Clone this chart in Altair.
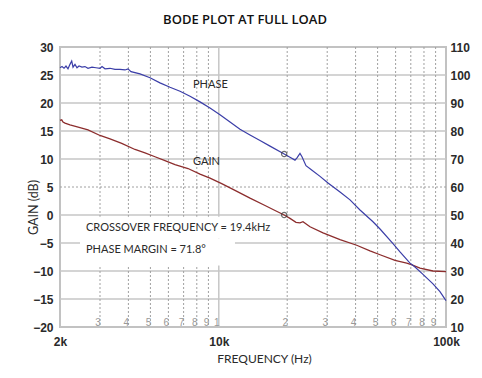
import altair as alt
import pandas as pd

# ---- data ----
gain_freq = [2000, 2035, 2062, 2104, 2213, 2449, 2656, 3000, 3320, 3738, 4277, 4733,
             5237, 5795, 6416, 7320, 8265, 9146, 10297, 11781, 13719, 15975, 17678,
             19400, 20574, 21864, 22768, 23470, 25200, 28752, 34158, 40456, 46280,
             51242, 59640, 67148, 70850, 76830, 87646, 100000]
gain_db = [16.9, 17.0, 16.6, 16.4, 16.1, 15.6, 15.2, 14.2, 13.6, 12.8, 11.7, 11.1,
           10.4, 9.7, 9.0, 8.3, 7.3, 6.6, 5.6, 4.4, 3.0, 1.7, 0.8,
           0.0, -0.6, -1.3, -1.4, -1.2, -2.1, -3.2, -4.4, -5.4, -6.4,
           -7.1, -8.1, -8.6, -8.9, -9.5, -10.0, -10.1]

phase_freq = [2000, 2041, 2083, 2125, 2169, 2213, 2252, 2282, 2328, 2376, 2425, 2499,
              2576, 2656, 2766, 2881, 3000, 3062, 3156, 3320, 3493, 3674, 3865, 3984,
              4107, 4499, 4979, 5509, 6099, 6749, 7470, 8265, 9146, 10121, 11203,
              12396, 13719, 15183, 16805, 19400, 20574, 21644, 22087, 22768, 23234,
              24194, 25716, 27894, 30246, 34158, 37800, 41828, 47706, 51242, 58444,
              62736, 69428, 73034, 79200, 87646, 94064, 100000]
phase_deg = [102.6, 103.0, 102.4, 103.2, 102.2, 103.8, 105.0, 102.8, 103.8, 102.6, 103.2, 102.8,
             103.0, 102.4, 102.8, 102.6, 102.4, 103.0, 102.2, 102.4, 102.0, 102.0, 101.8, 102.2,
             101.2, 100.4, 99.0, 97.2, 95.6, 94.2, 92.4, 90.4, 88.2, 85.8, 83.2,
             80.6, 78.6, 76.6, 74.6, 71.8, 70.6, 69.6, 70.4, 72.0, 70.8,
             67.6, 66.0, 63.8, 61.4, 58.2, 55.4, 51.8, 47.6, 45.0, 39.8,
             36.8, 32.8, 31.4, 28.8, 25.4, 22.6, 19.4]

gain_ticks = [-20, -15, -10, -5, 0, 5, 10, 15, 20, 25, 30]
phase_ticks = [10, 20, 30, 40, 50, 60, 70, 80, 90, 100, 110]
major_freqs = [2000, 10000, 100000]
minor_freqs = [3000, 4000, 5000, 6000, 7000, 8000, 9000, 10000,
               20000, 30000, 40000, 50000, 60000, 70000, 80000, 90000]
minor_labels = ["3", "4", "5", "6", "7", "8", "9", "1",
                "2", "3", "4", "5", "6", "7", "8", "9"]
dotted_freqs = [3000, 4000, 5000, 6000, 7000, 8000, 9000,
                20000, 30000, 40000, 50000, 60000, 70000, 80000, 90000]
solid_freqs = [10000]
solid_grid_db = [-15, -10, -5, 0, 10, 15, 20, 25]
dotted_grid_db = [5]

crossover_freq = 19400
crossover_gain = 0.0
phase_margin = 71.8

curve_labels = ["PHASE", "GAIN"]
curve_label_freq = [7700, 7700]
curve_label_db = [23.3, 9.5]

note_texts = ["CROSSOVER FREQUENCY = 19.4kHz", "PHASE MARGIN = 71.8°"]
note_freq = [2603, 2603]
note_db = [-2.3, -6.3]
box_f1 = [2449, 2449]
box_f2 = [18592, 11781]
box_db1 = [-0.3, -4.2]
box_db2 = [-4.2, -9.0]

# ---- tables ----
gain_df = pd.DataFrame({"f": gain_freq, "g": gain_db})
phase_df = pd.DataFrame({"f": phase_freq, "p": phase_deg})
minor_df = pd.DataFrame({"f": minor_freqs, "t": minor_labels})
dot_v_df = pd.DataFrame({"f": dotted_freqs})
sol_v_df = pd.DataFrame({"f": solid_freqs})
sol_h_df = pd.DataFrame({"g": solid_grid_db})
dot_h_df = pd.DataFrame({"g": dotted_grid_db})
lab_df = pd.DataFrame({"f": curve_label_freq, "g": curve_label_db, "t": curve_labels})
note_df = pd.DataFrame({"f": note_freq, "g": note_db, "t": note_texts})
box_df = pd.DataFrame({"f": box_f1, "f2": box_f2, "g": box_db1, "g2": box_db2})
cg_df = pd.DataFrame({"f": [crossover_freq], "g": [crossover_gain]})
cp_df = pd.DataFrame({"f": [crossover_freq], "p": [phase_margin]})

xs = alt.Scale(type="log", domain=[2000, 100000], nice=False)
gs = alt.Scale(domain=[-20, 30], nice=False, zero=False)
ps = alt.Scale(domain=[10, 110], nice=False, zero=False)

NUM = "Liberation Sans, Arial, sans-serif"
TXT = "Lato, Open Sans, sans-serif"
GRID = "#c6c6c6"
DOT = "#a0a0a0"

x_axis = alt.Axis(
    values=major_freqs, labelExpr="datum.value / 1000 + 'k'",
    grid=False, ticks=False, domain=False, labelFlush=False, labelOverlap=False,
    labelFont=NUM, labelFontSize=12, labelFontWeight="bold", labelColor="#2a2a2a",
    labelPadding=9, title="FREQUENCY (Hz)", titleFont=TXT, titleFontSize=12,
    titleFontWeight="normal", titleColor="#2a2a2a", titleX=204, titleY=31,
    titleBaseline="middle", titleAlign="center")
g_axis = alt.Axis(
    orient="left", values=gain_ticks, grid=False, ticks=False, domain=False,
    labelFont=NUM, labelFontSize=12, labelFontWeight="bold", labelColor="#2a2a2a",
    labelPadding=7, title="GAIN (dB)", titleFont=TXT, titleFontSize=12.5,
    titleFontWeight="normal", titleColor="#2a2a2a", titleX=-27, titleY=160,
    titleAngle=-90, titleBaseline="middle", titleAlign="center")
p_axis = alt.Axis(
    orient="right", values=phase_ticks, grid=False, ticks=False, domain=False,
    labelFont=NUM, labelFontSize=12, labelFontWeight="bold", labelColor="#2a2a2a",
    labelPadding=4, title="")

X = alt.X("f:Q", scale=xs, axis=x_axis)
G = alt.Y("g:Q", scale=gs, axis=g_axis)
P = alt.Y("p:Q", scale=ps, axis=p_axis)

hgrid = alt.Chart(sol_h_df).mark_rule(color=GRID, strokeWidth=1.5).encode(y=G)
hdot = alt.Chart(dot_h_df).mark_rule(color=DOT, strokeWidth=1, strokeDash=[2, 2]).encode(y=G)
vdot = alt.Chart(dot_v_df).mark_rule(color=DOT, strokeWidth=1, strokeDash=[2, 2]).encode(x=X)
vsol = alt.Chart(sol_v_df).mark_rule(color=GRID, strokeWidth=1.5).encode(x=X)

minor = alt.Chart(minor_df).mark_text(
    font=NUM, fontSize=10, color="#999999", baseline="middle", align="center", dx=-2
).encode(x=X, y=alt.value(276), text="t:N")

boxes = alt.Chart(box_df).mark_rect(color="white").encode(
    x=X, x2="f2:Q", y=G, y2="g2:Q")

notes = alt.Chart(note_df).mark_text(
    font=TXT, fontSize=11, color="#2a2a2a", align="left", baseline="middle"
).encode(x=X, y=G, text="t:N")

labels = alt.Chart(lab_df).mark_text(
    font=TXT, fontSize=11, color="#2a2a2a", align="left", baseline="middle"
).encode(x=X, y=G, text="t:N")

gain_line = alt.Chart(gain_df).mark_line(color="#8c2d2d", strokeWidth=1.3).encode(
    x=X, y=G, order="f:Q")

gain_mark = alt.Chart(cg_df).mark_point(shape="circle", size=28, color="#333333",
                                        filled=False, strokeWidth=1.2).encode(x=X, y=G)

phase_line = alt.Chart(phase_df).mark_line(color="#3b3ea8", strokeWidth=1.2).encode(
    x=X, y=P, order="f:Q")

phase_mark = alt.Chart(cp_df).mark_point(shape="circle", size=28, color="#333333",
                                         filled=False, strokeWidth=1.2).encode(x=X, y=P)

gain_layer = alt.layer(hgrid, hdot, vdot, vsol, minor, boxes, notes, labels, gain_line, gain_mark)
phase_layer = alt.layer(phase_line, phase_mark)

chart = alt.layer(gain_layer, phase_layer).resolve_scale(y="independent").properties(
    width=386, height=280,
    autosize=alt.AutoSizeParams(type="none"),
    padding={"left": 52, "top": 39, "right": 28, "bottom": 43},
    background="white",
    title=alt.TitleParams("BODE PLOT AT FULL LOAD", font="Open Sans", fontSize=13,
                          fontWeight=600, color="#111111", anchor="middle", dx=-8, offset=14),
).configure_view(stroke="#c2c2c2", strokeWidth=2)

chart.save("out.html", embed_options={"renderer": "svg", "actions": False})
